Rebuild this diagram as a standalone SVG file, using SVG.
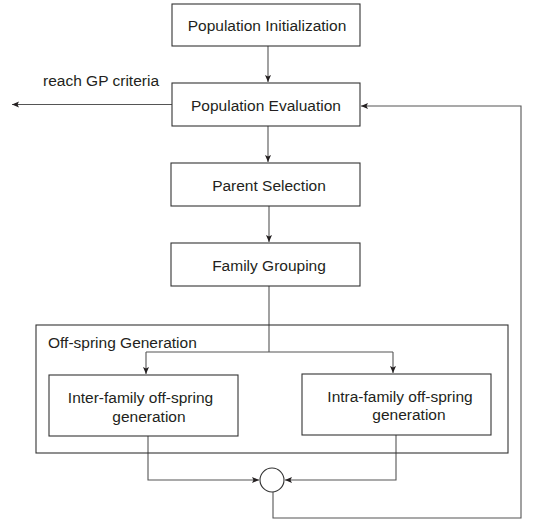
<svg xmlns="http://www.w3.org/2000/svg" width="535" height="520" viewBox="0 0 535 520">
<defs>
<style>
.box{fill:#fff;stroke:#333;stroke-width:1.1}
.frame{fill:none;stroke:#333;stroke-width:1.1}
.ln{fill:none;stroke:#555;stroke-width:1.1}
.t{font-family:"Liberation Sans",Arial,sans-serif;font-size:15.5px;fill:#231f20}
.c{text-anchor:middle}
</style>
<marker id="ah" markerUnits="userSpaceOnUse" markerWidth="8" markerHeight="7" refX="7" refY="3" orient="auto">
<path d="M0,0 L7,3 L0,6 L1.5,3 z" fill="#231f20"/>
</marker>
</defs>
<rect width="535" height="520" fill="#fff"/>
<g id="connectors">
<path class="ln" d="M268,46 V82" marker-end="url(#ah)"/>
<path class="ln" d="M172,104.5 H12" marker-end="url(#ah)"/>
<path class="ln" d="M268,126 V162" marker-end="url(#ah)"/>
<path class="ln" d="M269,206 V242" marker-end="url(#ah)"/>
<path class="ln" d="M269,286 V352"/>
<path class="ln" d="M146,352 H393"/>
<path class="ln" d="M146,352 V374" marker-end="url(#ah)"/>
<path class="ln" d="M393,352 V373" marker-end="url(#ah)"/>
<path class="ln" d="M148,436 V480 H259" marker-end="url(#ah)"/>
<path class="ln" d="M396,435 V480 H285" marker-end="url(#ah)"/>
<path class="ln" d="M273,492 V518 H521 V106 H361" marker-end="url(#ah)"/>
</g>
<g id="criteria-label">
<text class="t" x="43" y="86">reach GP criteria</text>
</g>
<g id="offspring-generation">
<rect class="frame" x="36" y="325" width="472" height="128"/>
<text class="t" x="48" y="348">Off-spring Generation</text>
</g>
<g id="population-initialization">
<rect class="box" x="172" y="4" width="188" height="42"/>
<text class="t c" x="267" y="31">Population Initialization</text>
</g>
<g id="population-evaluation">
<rect class="box" x="172" y="83" width="188" height="43"/>
<text class="t c" x="266" y="111">Population Evaluation</text>
</g>
<g id="parent-selection">
<rect class="box" x="171" y="163" width="189" height="43"/>
<text class="t c" x="269" y="191">Parent Selection</text>
</g>
<g id="family-grouping">
<rect class="box" x="171" y="243" width="189" height="43"/>
<text class="t c" x="269" y="271">Family Grouping</text>
</g>
<g id="inter-family">
<rect class="box" x="49" y="375" width="189" height="61"/>
<text class="t c" x="140.5" y="403">Inter-family off-spring</text>
<text class="t c" x="149" y="421.5">generation</text>
</g>
<g id="intra-family">
<rect class="box" x="302" y="374" width="189" height="61"/>
<text class="t c" x="400" y="401.5">Intra-family off-spring</text>
<text class="t c" x="409" y="420">generation</text>
</g>
<g id="merge">
<circle cx="272" cy="480" r="12" fill="#fff" stroke="#333" stroke-width="1.1"/>
</g>
</svg>
